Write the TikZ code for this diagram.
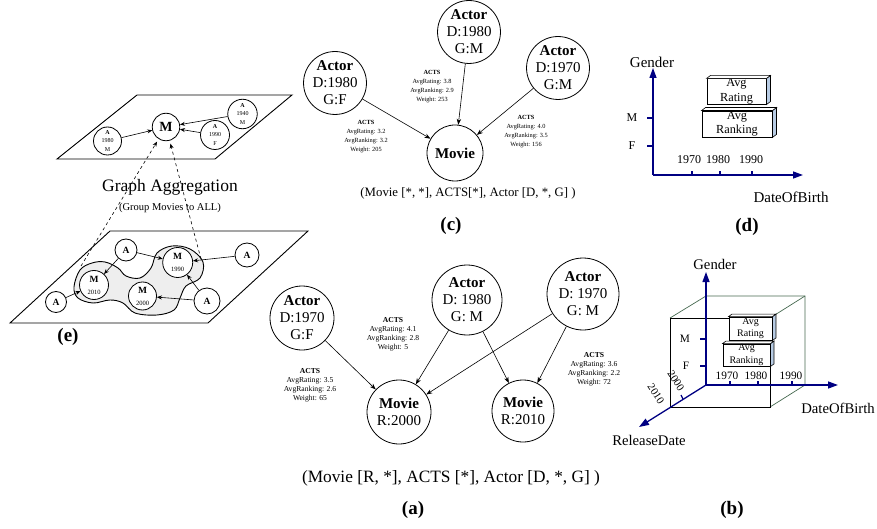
\documentclass[tikz,border=0pt]{standalone}
\usepackage{fontspec}
\setmainfont{Liberation Serif}
\usetikzlibrary{arrows.meta}
\newcommand\myfs[2]{\fontsize{#1}{#2}\selectfont}
\definecolor{navyax}{RGB}{0,0,130}
\definecolor{cubegreen}{RGB}{70,105,80}
\definecolor{boxblue}{RGB}{184,204,228}
\begin{document}
\begin{tikzpicture}[x=1pt,y=-1pt,
  circ/.style={circle,draw,line width=0.8pt,inner sep=0pt,align=center,fill=white},
  bignode/.style={circ,font=\myfs{15}{17}},
  edgel/.style={align=center,inner sep=0pt},
  lblc/.style={edgel,font=\myfs{6.3}{9}},
  lbla/.style={edgel,font=\myfs{7.6}{8.9}},
  arr/.style={-{Stealth[length=6pt,width=4.5pt]},line width=0.6pt},
  earr/.style={-{Stealth[length=5pt,width=4pt]},line width=0.6pt},
  panel/.style={font=\bfseries\myfs{19}{20},inner sep=0pt},
  caption/.style={inner sep=0pt},
  axis/.style={navyax,line width=1.3pt,-{Triangle[length=10pt,width=7pt]}},
  tick/.style={navyax,line width=1.2pt},
  frontbox/.style={draw,fill=white,line width=0.9pt,inner sep=0pt,align=center},
  boxside/.style={draw,fill=boxblue,line width=0.6pt},
  boxtop/.style={draw,fill=white,line width=0.6pt},
  cubeline/.style={cubegreen,line width=0.7pt},
  plane/.style={line width=0.9pt}]
\useasboundingbox (0,0) rectangle (877,529);

% ================= panel (e) =================
\draw[plane] (57,159) -- (215,159) -- (292,95) -- (137,95) -- cycle;
\node[circ,minimum size=27.5pt,font=\bfseries\myfs{14}{14}] (mt) at (166,127) {M};
\node[circ,minimum size=28pt,font=\myfs{6}{8.5}] (a80) at (107.5,141) {\textbf{A}\\1980\\M};
\node[circ,minimum size=29pt,font=\myfs{6}{8.5}] (a90) at (215,135) {\textbf{A}\\1990\\F};
\node[circ,minimum size=29.5pt,font=\myfs{6}{8.5}] (a40) at (242.5,114) {\textbf{A}\\1940\\M};
\draw[earr] (a80) -- (mt);
\draw[earr] (a90) -- (mt);
\draw[earr] (a40) -- (mt);

\node[caption,font=\myfs{17.5}{18}] (ga) at (170,187) {Graph Aggregation};
\node[caption,font=\myfs{10.5}{11}] (gm) at (170,208) {(Group Movies to ALL)};

\draw[plane] (10,323) -- (208,323) -- (308,231) -- (110,231) -- cycle;
\filldraw[fill=gray!13,line width=0.9pt] plot[smooth cycle,tension=0.6] coordinates {
 (74,287) (80,270) (92,263) (105,262) (118,268) (126,276) (140,278) (151,268)
 (157,253) (172,246) (190,249) (203,262) (200,278) (186,286) (180,298) (174,310)
 (157,315) (135,313) (123,303) (110,300) (93,303) (78,298)};
\coordinate (d1) at (81,266);
\coordinate (d2) at (201,259);
\draw[earr,dashed,shorten >=3pt] (d1) -- (mt);
\draw[earr,dashed,shorten >=3pt] (d2) -- (mt);

\node[circ,minimum size=30pt,font=\myfs{9.5}{12}] (m90) at (177.7,262.5) {\textbf{M}\\{\myfs{6.5}{7}1990}};
\node[circ,minimum size=29pt,font=\myfs{9.5}{12}] (m10) at (94,285) {\textbf{M}\\{\myfs{6.5}{7}2010}};
\node[circ,minimum size=28pt,font=\myfs{9.5}{12}] (m00) at (142.5,296) {\textbf{M}\\{\myfs{6.5}{7}2000}};
\node[circ,minimum size=22pt,font=\bfseries\myfs{9.5}{10}] (la1) at (126,250) {A};
\node[circ,minimum size=24pt,font=\bfseries\myfs{9.5}{10}] (la2) at (247,255) {A};
\node[circ,minimum size=26pt,font=\bfseries\myfs{9.5}{10}] (la3) at (207,301) {A};
\node[circ,minimum size=21pt,font=\bfseries\myfs{9.5}{10}] (la4) at (56,302) {A};
\draw[earr] (la1) -- (m10);
\draw[earr] (la1) -- (m90);
\draw[earr] (la2) -- (m90);
\draw[earr] (la3) -- (m90);
\draw[earr] (la3) -- (m00);
\draw[earr] (la4) -- (m10);
\node[panel] (pe) at (68,337) {(e)};

% ================= panel (c) =================
\node[bignode,minimum size=60pt] (ca1) at (335,83) {\textbf{Actor}\\D:1980\\G:F};
\node[bignode,minimum size=56pt] (ca2) at (469,32) {\textbf{Actor}\\D:1980\\G:M};
\node[bignode,minimum size=58pt] (ca3) at (558,68) {\textbf{Actor}\\D:1970\\G:M};
\node[bignode,minimum size=56pt] (cm) at (455,153) {\textbf{Movie}};
\draw[arr] (ca1) -- (cm);
\draw[arr] (ca2) -- (cm);
\draw[arr] (ca3) -- (cm);
\node[lblc] (cl2) at (432,87) {\textbf{ACTS}\\AvgRating: 3.8\\AvgRanking: 2.9\\Weight: 253};
\node[lblc] (cl1) at (366,137) {\textbf{ACTS}\\AvgRating: 3.2\\AvgRanking: 3.2\\Weight: 205};
\node[lblc] (cl3) at (526,132) {\textbf{ACTS}\\AvgRating: 4.0\\AvgRanking: 3.5\\Weight: 156};
\node[caption,font=\myfs{12.8}{14}] (cc) at (468,193) {(Movie [*, *], ACTS[*], Actor [D, *, G] )};
\node[panel] (pc) at (451,226) {(c)};

% ================= panel (a) =================
\node[bignode,minimum size=64pt] (aa1) at (302,318) {\textbf{Actor}\\D:1970\\G:F};
\node[bignode,minimum size=70pt] (aa2) at (467,300) {\textbf{Actor}\\D: 1980\\G: M};
\node[bignode,minimum size=72pt] (aa3) at (583,294) {\textbf{Actor}\\D: 1970\\G: M};
\node[bignode,minimum size=64pt] (am1) at (399,412) {\textbf{Movie}\\R:2000};
\node[bignode,minimum size=62pt] (am2) at (523,411) {\textbf{Movie}\\R:2010};
\draw[arr] (aa1) -- (am1);
\draw[arr] (aa2) -- (am1);
\draw[arr] (aa2) -- (am2);
\draw[arr] (aa3) -- (am1);
\draw[arr] (aa3) -- (am2);
\node[lbla] (al2) at (393,334) {\textbf{ACTS}\\AvgRating: 4.1\\AvgRanking: 2.8\\Weight: 5};
\node[lbla] (al1) at (310,385) {\textbf{ACTS}\\AvgRating: 3.5\\AvgRanking: 2.6\\Weight: 65};
\node[lbla] (al3) at (594,369) {\textbf{ACTS}\\AvgRating: 3.6\\AvgRanking: 2.2\\Weight: 72};
\node[caption,font=\myfs{17.3}{18}] (ac) at (451,478) {(Movie [R, *], ACTS [*], Actor [D, *, G] )};
\node[panel] (pa) at (413,510) {(a)};

% ================= panel (d) =================
\coordinate (do) at (653,175);
\coordinate (dy) at (653,68);
\coordinate (dx) at (803,175);
\draw[axis] (do) -- (dy);
\draw[axis] (do) -- (dx);
\draw[tick] (653,118) -- (647,118);
\draw[tick] (653,146) -- (647,146);
\draw[tick] (692,175) -- (692,171);
\draw[tick] (720,175) -- (720,171);
\draw[tick] (752,175) -- (752,171);
\node[caption,font=\myfs{15}{16}] (dg) at (652,62) {Gender};
\node[caption,font=\myfs{12}{13}] (dm) at (632,118) {M};
\node[caption,font=\myfs{12}{13}] (df) at (632,146) {F};
\node[caption,font=\myfs{12}{13}] (d70) at (689,160) {1970};
\node[caption,font=\myfs{12}{13}] (d80) at (718,160) {1980};
\node[caption,font=\myfs{12}{13}] (d90) at (751,160) {1990};
\node[caption,font=\myfs{15}{16}] (dd) at (791,197) {DateOfBirth};
\node[frontbox,minimum width=59pt,minimum height=25pt,font=\myfs{12.3}{14.5}] (dr1) at (736.5,91.5) {Avg\\Rating};
\filldraw[boxside] (dr1.north east) -- ++(4,-3) -- ([shift={(4,-3)}]dr1.south east) -- (dr1.south east) -- cycle;
\filldraw[boxtop] (dr1.north west) -- ++(4,-3) -- ([shift={(4,-3)}]dr1.north east) -- (dr1.north east) -- cycle;
\node[frontbox,minimum width=70pt,minimum height=26pt,font=\myfs{12.3}{14.5}] (dr2) at (737,124) {Avg\\Ranking};
\filldraw[boxside] (dr2.north east) -- ++(4,-3) -- ([shift={(4,-3)}]dr2.south east) -- (dr2.south east) -- cycle;
\filldraw[boxtop] (dr2.north west) -- ++(4,-3) -- ([shift={(4,-3)}]dr2.north east) -- (dr2.north east) -- cycle;
\node[panel] (pd) at (747,227) {(d)};

% ================= panel (b) =================
\draw[cubeline] (670,318) -- (706,296) -- (805,296) -- (805,385) -- (770,407);
\draw[cubeline] (805,296) -- (770,318);
\draw[line width=0.8pt] (670,318) rectangle (770,407);
\coordinate (bo) at (706,385);
\coordinate (by) at (706,272);
\coordinate (bx) at (838,385);
\coordinate (bz) at (639,427);
\draw[axis] (bo) -- (by);
\draw[axis] (bo) -- (bx);
\draw[axis] (bo) -- (bz);
\draw[tick] (706,339) -- (700,339);
\draw[tick] (706,366) -- (700,366);
\draw[tick] (730,385) -- (730,381);
\draw[tick] (758,385) -- (758,381);
\draw[tick] (792,385) -- (792,381);
\draw[tick] (683,399) -- (681,395);
\node[caption,font=\myfs{14.7}{16}] (bg) at (715,264) {Gender};
\node[caption,font=\myfs{14.7}{16}] (bd) at (838,408) {DateOfBirth};
\node[caption,font=\myfs{14.7}{16}] (br) at (649,440) {ReleaseDate};
\node[caption,font=\myfs{11.3}{12}] (bm) at (685,339) {M};
\node[caption,font=\myfs{11.3}{12}] (bf) at (686,366) {F};
\node[caption,font=\myfs{11.3}{12}] (b70) at (727,376) {1970};
\node[caption,font=\myfs{11.3}{12}] (b80) at (756,376) {1980};
\node[caption,font=\myfs{11.3}{12}] (b90) at (791,376) {1990};
\node[caption,font=\myfs{10.8}{12},rotate=-57] (b00) at (676,381) {2000};
\node[caption,font=\myfs{10.8}{12},rotate=-57] (b10) at (656,394) {2010};
\node[frontbox,minimum width=43pt,minimum height=23pt,font=\myfs{10}{12.5}] (br1) at (750.5,328.5) {Avg\\Rating};
\filldraw[boxside] (br1.north east) -- ++(3.5,-2.5) -- ([shift={(3.5,-2.5)}]br1.south east) -- (br1.south east) -- cycle;
\filldraw[boxtop] (br1.north west) -- ++(3.5,-2.5) -- ([shift={(3.5,-2.5)}]br1.north east) -- (br1.north east) -- cycle;
\node[frontbox,minimum width=47pt,minimum height=22pt,font=\myfs{10}{12.5}] (br2) at (746.5,355) {Avg\\Ranking};
\filldraw[boxside] (br2.north east) -- ++(3.5,-2.5) -- ([shift={(3.5,-2.5)}]br2.south east) -- (br2.south east) -- cycle;
\filldraw[boxtop] (br2.north west) -- ++(3.5,-2.5) -- ([shift={(3.5,-2.5)}]br2.north east) -- (br2.north east) -- cycle;
\node[panel] (pb) at (732,510) {(b)};
\end{tikzpicture}
\end{document}
